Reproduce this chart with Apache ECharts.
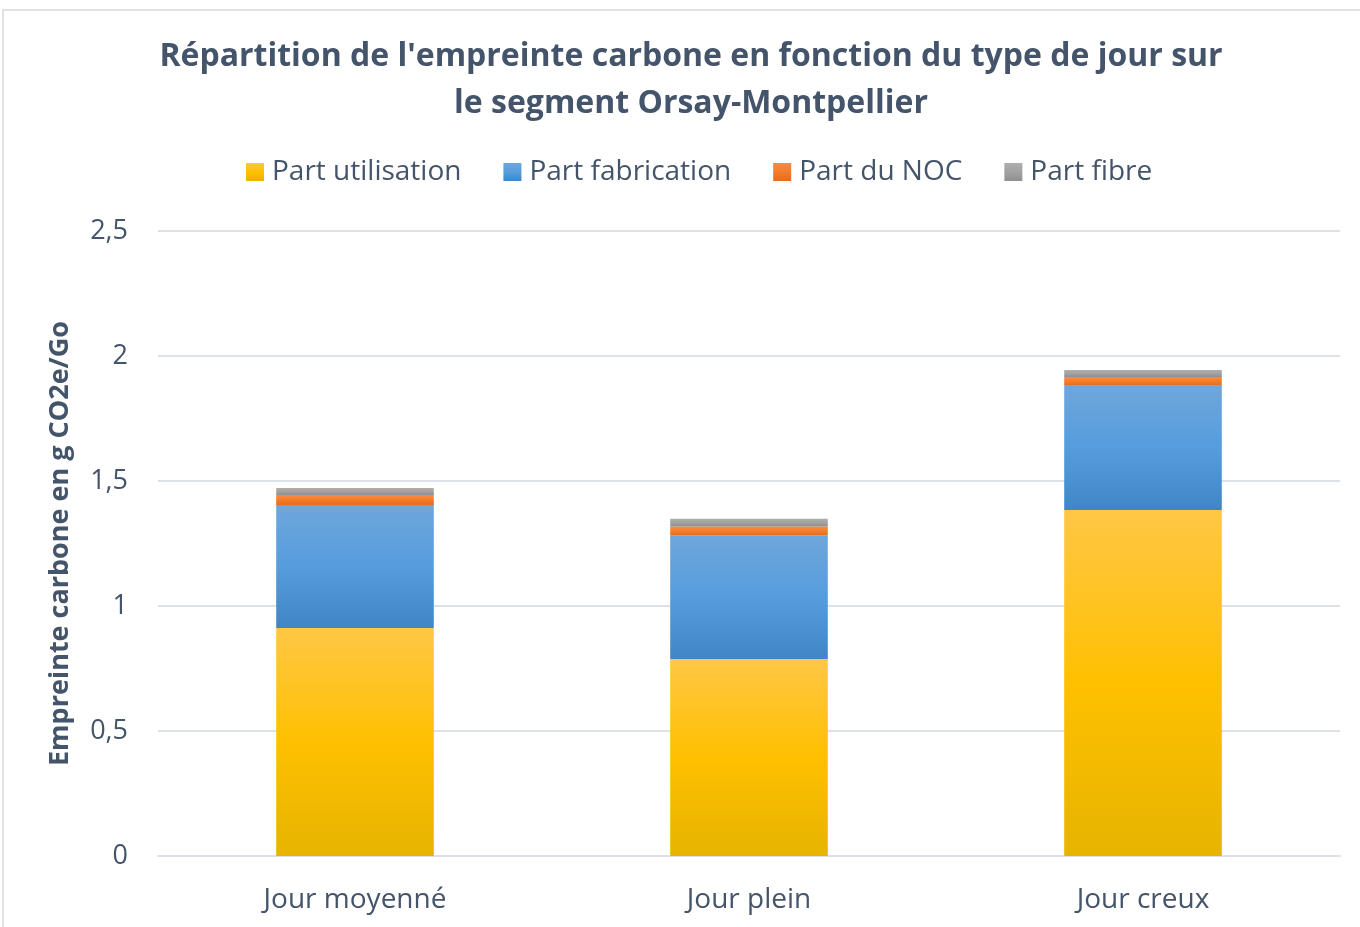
<!DOCTYPE html>
<html>
<head>
<meta charset="utf-8">
<script src="https://cdn.jsdelivr.net/npm/echarts@6/dist/echarts.min.js"></script>
<style>
  html, body { margin: 0; padding: 0; background: #fff; }
  #chart { width: 1360px; height: 927px; }
</style>
</head>
<body>
<div id="chart"></div>
<script>
// données
var categories = ['Jour moyenné', 'Jour plein', 'Jour creux'];
var partUtilisation = [0.912, 0.788, 1.384];
var partFabrication = [0.492, 0.494, 0.497];
var partNoc = [0.040, 0.036, 0.035];
var partFibre = [0.028, 0.031, 0.028];
var legendNames = ['Part utilisation', 'Part fabrication', 'Part du NOC', 'Part fibre'];

var textColor = '#44546A';
var font = '"Open Sans", "Noto Sans", sans-serif';

function grad(c1, c2, c3) {
  return new echarts.graphic.LinearGradient(0, 0, 0, 1, [
    { offset: 0, color: c1 },
    { offset: 0.5, color: c2 },
    { offset: 1, color: c3 }
  ]);
}

var colors = [
  grad('#FFC746', '#FFC000', '#E6B400'),
  grad('#6FA6DC', '#559DDD', '#3F86C7'),
  grad('#F68B44', '#F47D2C', '#E46C1C'),
  grad('#AEAEAE', '#A2A2A2', '#8F8F8F')
];
var datas = [partUtilisation, partFabrication, partNoc, partFibre];

var series = [];
for (var i = 0; i < 4; i++) {
  series.push({
    name: legendNames[i],
    type: 'bar',
    stack: 'total',
    data: datas[i],
    barWidth: '40%',
    itemStyle: { color: colors[i] }
  });
}

var myChart = echarts.init(document.getElementById('chart'));
myChart.setOption({
  animation: false,
  textStyle: { fontFamily: font },
  graphic: [{
    type: 'rect',
    shape: { x: 3, y: 10, width: 1400, height: 1000 },
    style: { fill: 'none', stroke: '#D9D9D9', lineWidth: 1.5 },
    silent: true
  }],
  title: {
    text: "Répartition de l'empreinte carbone en fonction du type de jour sur\nle segment Orsay-Montpellier",
    left: 686,
    textAlign: 'center',
    top: 28,
    textStyle: {
      color: textColor,
      fontFamily: font,
      fontWeight: 'bold',
      fontSize: 32,
      lineHeight: 47
    }
  },
  legend: {
    data: legendNames,
    top: 153,
    left: 241,
    itemWidth: 18,
    itemHeight: 18,
    itemGap: 42,
    icon: 'rect',
    textStyle: { color: textColor, fontSize: 28, fontFamily: font, padding: [0, 0, 0, 3] }
  },
  grid: { left: 158, right: 20, top: 231, bottom: 71, containLabel: false },
  xAxis: {
    type: 'category',
    data: categories,
    axisLine: { lineStyle: { color: '#DDE1E8', width: 2 } },
    axisTick: { show: false },
    axisLabel: { color: textColor, fontSize: 28, margin: 30, fontFamily: font }
  },
  yAxis: {
    type: 'value',
    min: 0,
    max: 2.5,
    interval: 0.5,
    name: 'Empreinte carbone en g CO2e/Go',
    nameLocation: 'middle',
    nameGap: 84,
    nameTextStyle: { color: textColor, fontSize: 27, fontWeight: 'bold', fontFamily: font },
    axisLine: { show: false },
    axisTick: { show: false },
    axisLabel: {
      color: textColor,
      fontSize: 27,
      margin: 30,
      fontFamily: font,
      formatter: function (v) { return String(v).replace('.', ','); }
    },
    splitLine: { lineStyle: { color: '#DDE1E8', width: 2 } }
  },
  series: series
});
</script>
</body>
</html>
